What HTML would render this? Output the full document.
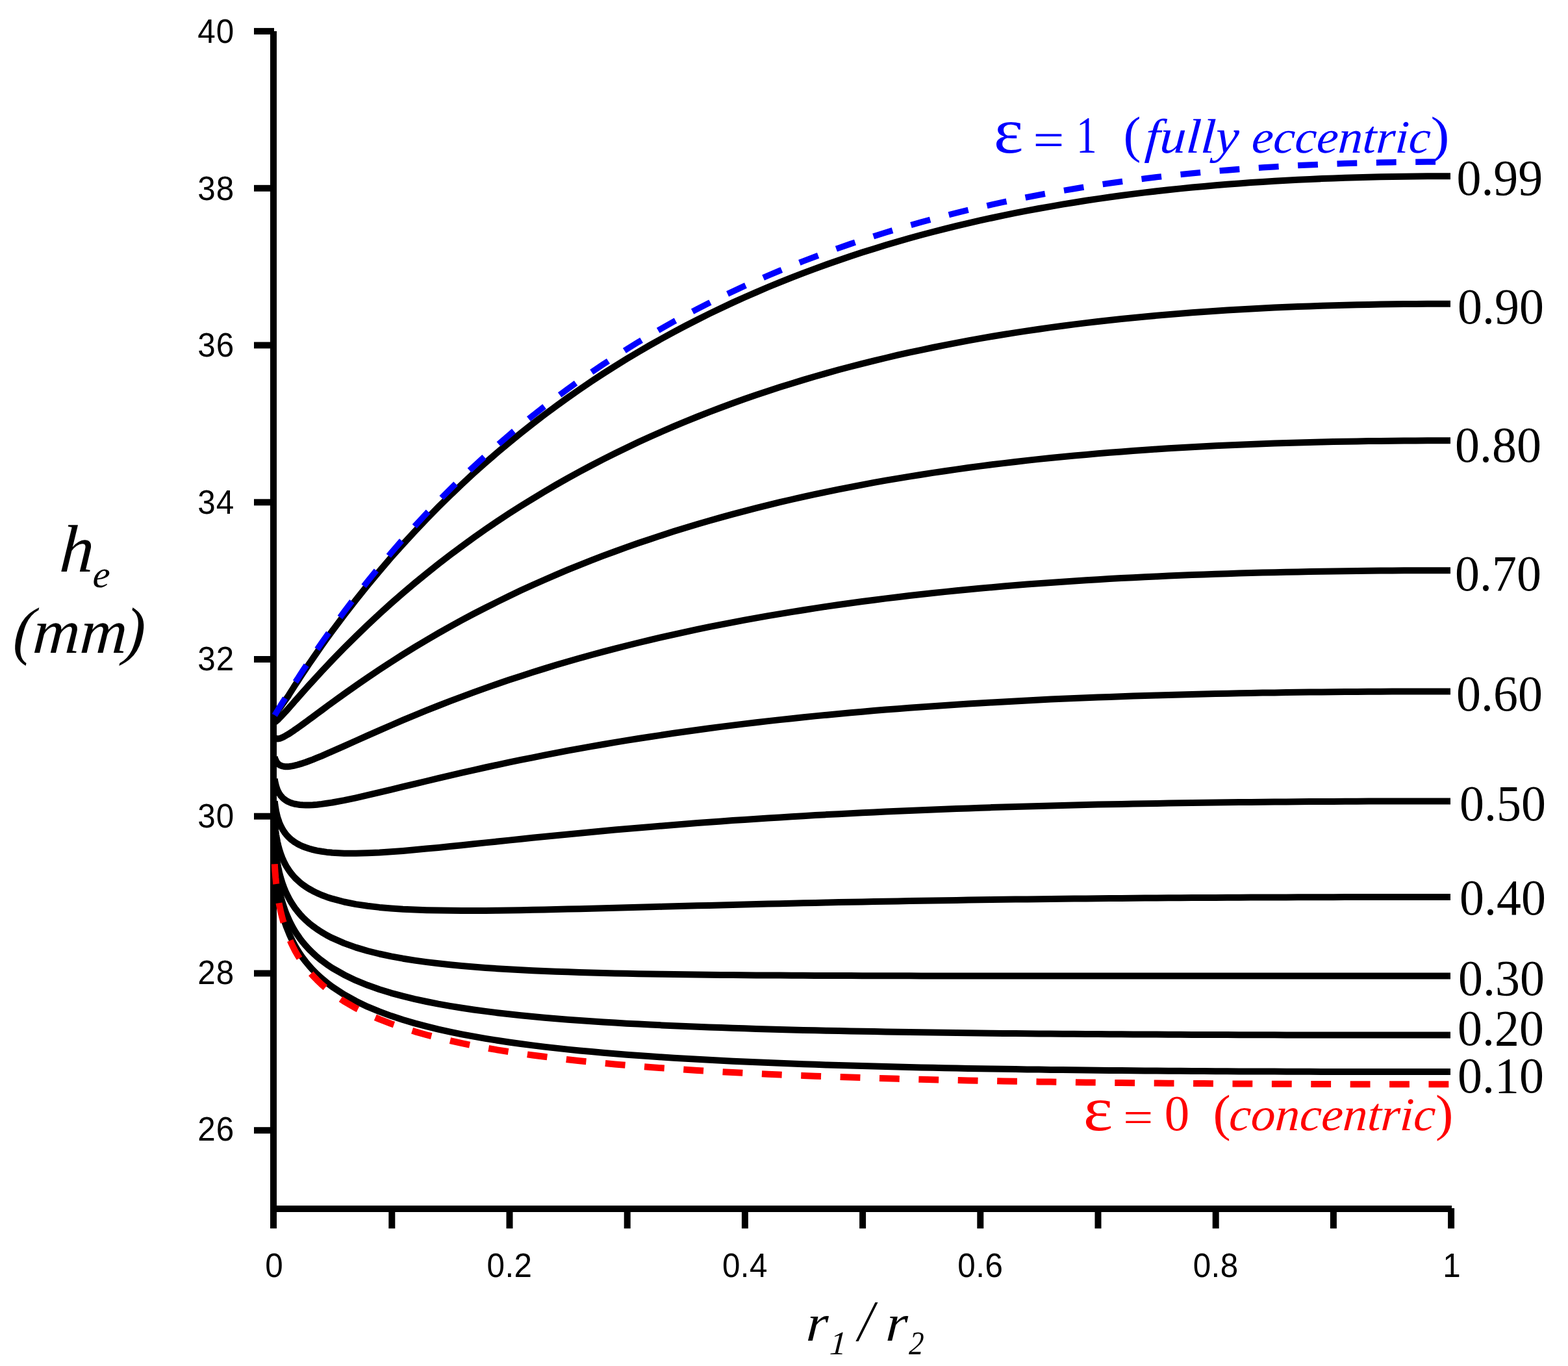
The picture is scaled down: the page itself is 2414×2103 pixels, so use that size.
<!DOCTYPE html>
<html lang="en"><head><meta charset="utf-8"><title>h_e versus r1/r2 for eccentric annuli</title>
<style>
html,body{margin:0;padding:0;background:#fff;}
body{width:2414px;height:2103px;overflow:hidden;}
svg{display:block;}
text{white-space:pre;}
.sans{font-family:"Liberation Sans",sans-serif;}
.serif{font-family:"Liberation Serif",serif;}
.it{font-style:italic;}
.bd{font-weight:bold;}
</style></head><body>
<svg width="2414" height="2103" viewBox="0 0 2414 2103">
<rect width="2414" height="2103" fill="#fff"/>
<g stroke="#000" stroke-width="10" fill="none">
<path d="M421,48.08 V1891.3"/>
<path d="M421,1861.05 H2235"/>
<path d="M391,1740.2 H422"/>
<path d="M391,1498.5 H422"/>
<path d="M391,1256.7 H422"/>
<path d="M391,1015.0 H422"/>
<path d="M391,773.3 H422"/>
<path d="M391,531.5 H422"/>
<path d="M391,289.8 H422"/>
<path d="M391,48.1 H422"/>
<path d="M603.3,1860.05 V1891.3"/>
<path d="M784.5,1860.05 V1891.3"/>
<path d="M965.7,1860.05 V1891.3"/>
<path d="M1146.9,1860.05 V1891.3"/>
<path d="M1328.1,1860.05 V1891.3"/>
<path d="M1509.3,1860.05 V1891.3"/>
<path d="M1690.5,1860.05 V1891.3"/>
<path d="M1871.7,1860.05 V1891.3"/>
<path d="M2052.9,1860.05 V1891.3"/>
<path d="M2234.1,1860.05 V1891.3"/>
</g>
<g fill="none" stroke-linejoin="round">
<path d="M422.8,1325.9 L423.0,1329.0 L423.2,1332.3 L423.4,1335.6 L423.7,1339.0 L424.0,1342.5 L424.3,1346.1 L424.7,1349.8 L425.0,1353.6 L425.5,1357.4 L425.9,1361.4 L426.5,1365.4 L427.0,1369.6 L427.7,1373.8 L428.4,1378.2 L429.2,1382.6 L430.0,1387.2 L431.0,1391.9 L432.0,1396.6 L433.2,1401.5 L434.5,1406.5 L435.9,1411.6 L437.5,1416.8 L439.2,1422.1 L441.1,1427.5 L443.3,1433.0 L445.6,1438.6 L448.2,1444.3 L451.1,1450.2 L454.2,1456.1 L457.8,1462.1 L461.6,1468.2 L465.9,1474.4 L470.7,1480.6 L475.9,1486.9 L481.7,1493.3 L488.1,1499.7 L495.2,1506.2 L503.0,1512.7 L511.6,1519.3 L529.8,1531.2 L547.9,1541.2 L566.0,1549.9 L584.2,1557.4 L602.3,1564.1 L620.4,1570.0 L638.6,1575.4 L656.7,1580.2 L674.8,1584.6 L693.0,1588.6 L711.1,1592.3 L729.2,1595.7 L747.3,1598.9 L765.5,1601.8 L783.6,1604.5 L801.7,1607.0 L819.9,1609.4 L838.0,1611.6 L856.1,1613.6 L874.2,1615.6 L892.4,1617.4 L910.5,1619.1 L928.6,1620.7 L946.8,1622.2 L964.9,1623.7 L983.0,1625.0 L1001.2,1626.3 L1019.3,1627.5 L1037.4,1628.7 L1055.5,1629.8 L1073.7,1630.8 L1091.8,1631.8 L1109.9,1632.8 L1128.1,1633.7 L1146.2,1634.5 L1164.3,1635.3 L1182.5,1636.1 L1200.6,1636.8 L1218.7,1637.5 L1236.8,1638.2 L1255.0,1638.8 L1273.1,1639.5 L1291.2,1640.0 L1309.4,1640.6 L1327.5,1641.1 L1345.6,1641.6 L1363.8,1642.1 L1381.9,1642.5 L1400.0,1643.0 L1418.2,1643.4 L1436.3,1643.8 L1454.4,1644.2 L1472.5,1644.5 L1490.7,1644.9 L1508.8,1645.2 L1526.9,1645.5 L1545.1,1645.8 L1563.2,1646.1 L1581.3,1646.4 L1599.5,1646.6 L1617.6,1646.9 L1635.7,1647.1 L1653.8,1647.3 L1672.0,1647.5 L1690.1,1647.7 L1708.2,1647.9 L1726.4,1648.1 L1744.5,1648.3 L1762.6,1648.4 L1780.8,1648.6 L1798.9,1648.7 L1817.0,1648.8 L1835.1,1649.0 L1853.3,1649.1 L1871.4,1649.2 L1889.5,1649.3 L1907.7,1649.4 L1925.8,1649.5 L1943.9,1649.6 L1962.1,1649.6 L1980.2,1649.7 L1998.3,1649.8 L2016.4,1649.8 L2034.6,1649.9 L2052.7,1649.9 L2070.8,1650.0 L2089.0,1650.0 L2107.1,1650.0 L2125.2,1650.1 L2143.4,1650.1 L2161.5,1650.1 L2179.6,1650.1 L2197.7,1650.1 L2215.9,1650.1 L2233.0,1650.1" stroke="#000" stroke-width="10"/>
<path d="M422.8,1312.9 L423.0,1315.8 L423.2,1318.9 L423.4,1322.0 L423.7,1325.2 L424.0,1328.5 L424.3,1331.9 L424.7,1335.3 L425.0,1338.9 L425.5,1342.5 L425.9,1346.2 L426.5,1349.9 L427.0,1353.8 L427.7,1357.8 L428.4,1361.8 L429.2,1366.0 L430.0,1370.2 L431.0,1374.6 L432.0,1379.0 L433.2,1383.5 L434.5,1388.1 L435.9,1392.9 L437.5,1397.7 L439.2,1402.6 L441.1,1407.5 L443.3,1412.6 L445.6,1417.8 L448.2,1423.0 L451.1,1428.3 L454.2,1433.7 L457.8,1439.2 L461.6,1444.7 L465.9,1450.3 L470.7,1455.9 L475.9,1461.6 L481.7,1467.3 L488.1,1473.1 L495.2,1478.8 L503.0,1484.6 L511.6,1490.3 L529.8,1500.7 L547.9,1509.4 L566.0,1516.8 L584.2,1523.2 L602.3,1528.8 L620.4,1533.7 L638.6,1538.1 L656.7,1542.0 L674.8,1545.6 L693.0,1548.8 L711.1,1551.8 L729.2,1554.5 L747.3,1556.9 L765.5,1559.2 L783.6,1561.3 L801.7,1563.2 L819.9,1565.0 L838.0,1566.7 L856.1,1568.2 L874.2,1569.7 L892.4,1571.0 L910.5,1572.3 L928.6,1573.5 L946.8,1574.6 L964.9,1575.7 L983.0,1576.6 L1001.2,1577.6 L1019.3,1578.4 L1037.4,1579.3 L1055.5,1580.0 L1073.7,1580.8 L1091.8,1581.5 L1109.9,1582.1 L1128.1,1582.7 L1146.2,1583.3 L1164.3,1583.9 L1182.5,1584.4 L1200.6,1584.9 L1218.7,1585.4 L1236.8,1585.9 L1255.0,1586.3 L1273.1,1586.7 L1291.2,1587.1 L1309.4,1587.4 L1327.5,1587.8 L1345.6,1588.1 L1363.8,1588.4 L1381.9,1588.7 L1400.0,1589.0 L1418.2,1589.3 L1436.3,1589.6 L1454.4,1589.8 L1472.5,1590.1 L1490.7,1590.3 L1508.8,1590.5 L1526.9,1590.7 L1545.1,1590.9 L1563.2,1591.1 L1581.3,1591.2 L1599.5,1591.4 L1617.6,1591.6 L1635.7,1591.7 L1653.8,1591.8 L1672.0,1592.0 L1690.1,1592.1 L1708.2,1592.2 L1726.4,1592.3 L1744.5,1592.4 L1762.6,1592.5 L1780.8,1592.6 L1798.9,1592.7 L1817.0,1592.8 L1835.1,1592.9 L1853.3,1593.0 L1871.4,1593.0 L1889.5,1593.1 L1907.7,1593.2 L1925.8,1593.2 L1943.9,1593.3 L1962.1,1593.3 L1980.2,1593.4 L1998.3,1593.4 L2016.4,1593.4 L2034.6,1593.5 L2052.7,1593.5 L2070.8,1593.5 L2089.0,1593.5 L2107.1,1593.6 L2125.2,1593.6 L2143.4,1593.6 L2161.5,1593.6 L2179.6,1593.6 L2197.7,1593.6 L2215.9,1593.6 L2233.0,1593.6" stroke="#000" stroke-width="10"/>
<path d="M422.8,1292.1 L423.0,1294.8 L423.2,1297.5 L423.4,1300.3 L423.7,1303.2 L424.0,1306.1 L424.3,1309.1 L424.7,1312.2 L425.0,1315.4 L425.5,1318.6 L425.9,1321.9 L426.5,1325.2 L427.0,1328.7 L427.7,1332.2 L428.4,1335.8 L429.2,1339.4 L430.0,1343.2 L431.0,1347.0 L432.0,1350.9 L433.2,1354.8 L434.5,1358.9 L435.9,1363.0 L437.5,1367.2 L439.2,1371.4 L441.1,1375.7 L443.3,1380.1 L445.6,1384.5 L448.2,1389.0 L451.1,1393.5 L454.2,1398.1 L457.8,1402.7 L461.6,1407.3 L465.9,1412.0 L470.7,1416.6 L475.9,1421.3 L481.7,1425.9 L488.1,1430.5 L495.2,1435.1 L503.0,1439.7 L511.6,1444.2 L529.8,1452.1 L547.9,1458.6 L566.0,1464.0 L584.2,1468.5 L602.3,1472.4 L620.4,1475.7 L638.6,1478.6 L656.7,1481.1 L674.8,1483.3 L693.0,1485.3 L711.1,1487.0 L729.2,1488.6 L747.3,1489.9 L765.5,1491.2 L783.6,1492.3 L801.7,1493.3 L819.9,1494.2 L838.0,1495.0 L856.1,1495.7 L874.2,1496.3 L892.4,1496.9 L910.5,1497.5 L928.6,1498.0 L946.8,1498.4 L964.9,1498.8 L983.0,1499.2 L1001.2,1499.5 L1019.3,1499.8 L1037.4,1500.1 L1055.5,1500.3 L1073.7,1500.5 L1091.8,1500.7 L1109.9,1500.9 L1128.1,1501.1 L1146.2,1501.3 L1164.3,1501.4 L1182.5,1501.5 L1200.6,1501.6 L1218.7,1501.7 L1236.8,1501.8 L1255.0,1501.9 L1273.1,1502.0 L1291.2,1502.1 L1309.4,1502.1 L1327.5,1502.2 L1345.6,1502.2 L1363.8,1502.3 L1381.9,1502.3 L1400.0,1502.3 L1418.2,1502.4 L1436.3,1502.4 L1454.4,1502.4 L1472.5,1502.5 L1490.7,1502.5 L1508.8,1502.5 L1526.9,1502.5 L1545.1,1502.5 L1563.2,1502.5 L1581.3,1502.5 L1599.5,1502.6 L1617.6,1502.6 L1635.7,1502.6 L1653.8,1502.6 L1672.0,1502.6 L1690.1,1502.6 L1708.2,1502.6 L1726.4,1502.6 L1744.5,1502.6 L1762.6,1502.6 L1780.8,1502.6 L1798.9,1502.6 L1817.0,1502.6 L1835.1,1502.6 L1853.3,1502.6 L1871.4,1502.6 L1889.5,1502.6 L1907.7,1502.6 L1925.8,1502.6 L1943.9,1502.6 L1962.1,1502.6 L1980.2,1502.6 L1998.3,1502.6 L2016.4,1502.6 L2034.6,1502.6 L2052.7,1502.6 L2070.8,1502.6 L2089.0,1502.6 L2107.1,1502.6 L2125.2,1502.6 L2143.4,1502.6 L2161.5,1502.6 L2179.6,1502.6 L2197.7,1502.6 L2215.9,1502.6 L2233.0,1502.6" stroke="#000" stroke-width="10"/>
<path d="M422.8,1265.0 L423.0,1267.3 L423.2,1269.6 L423.4,1271.9 L423.7,1274.4 L424.0,1276.9 L424.3,1279.4 L424.7,1282.0 L425.0,1284.6 L425.5,1287.3 L425.9,1290.1 L426.5,1292.9 L427.0,1295.8 L427.7,1298.7 L428.4,1301.7 L429.2,1304.7 L430.0,1307.8 L431.0,1310.9 L432.0,1314.1 L433.2,1317.3 L434.5,1320.6 L435.9,1323.9 L437.5,1327.3 L439.2,1330.7 L441.1,1334.1 L443.3,1337.5 L445.6,1341.0 L448.2,1344.5 L451.1,1348.0 L454.2,1351.5 L457.8,1354.9 L461.6,1358.4 L465.9,1361.8 L470.7,1365.2 L475.9,1368.5 L481.7,1371.7 L488.1,1374.9 L495.2,1378.0 L503.0,1380.9 L511.6,1383.7 L529.8,1388.5 L547.9,1392.1 L566.0,1394.8 L584.2,1396.9 L602.3,1398.5 L620.4,1399.7 L638.6,1400.5 L656.7,1401.2 L674.8,1401.6 L693.0,1401.8 L711.1,1402.0 L729.2,1402.0 L747.3,1401.9 L765.5,1401.7 L783.6,1401.5 L801.7,1401.2 L819.9,1400.8 L838.0,1400.5 L856.1,1400.1 L874.2,1399.6 L892.4,1399.2 L910.5,1398.7 L928.6,1398.3 L946.8,1397.8 L964.9,1397.3 L983.0,1396.8 L1001.2,1396.3 L1019.3,1395.8 L1037.4,1395.3 L1055.5,1394.8 L1073.7,1394.3 L1091.8,1393.9 L1109.9,1393.4 L1128.1,1392.9 L1146.2,1392.5 L1164.3,1392.0 L1182.5,1391.6 L1200.6,1391.2 L1218.7,1390.7 L1236.8,1390.3 L1255.0,1389.9 L1273.1,1389.5 L1291.2,1389.1 L1309.4,1388.8 L1327.5,1388.4 L1345.6,1388.1 L1363.8,1387.7 L1381.9,1387.4 L1400.0,1387.1 L1418.2,1386.8 L1436.3,1386.5 L1454.4,1386.2 L1472.5,1385.9 L1490.7,1385.6 L1508.8,1385.3 L1526.9,1385.1 L1545.1,1384.8 L1563.2,1384.6 L1581.3,1384.4 L1599.5,1384.2 L1617.6,1384.0 L1635.7,1383.8 L1653.8,1383.6 L1672.0,1383.4 L1690.1,1383.2 L1708.2,1383.0 L1726.4,1382.9 L1744.5,1382.7 L1762.6,1382.6 L1780.8,1382.5 L1798.9,1382.3 L1817.0,1382.2 L1835.1,1382.1 L1853.3,1382.0 L1871.4,1381.9 L1889.5,1381.8 L1907.7,1381.7 L1925.8,1381.6 L1943.9,1381.5 L1962.1,1381.5 L1980.2,1381.4 L1998.3,1381.3 L2016.4,1381.3 L2034.6,1381.2 L2052.7,1381.2 L2070.8,1381.1 L2089.0,1381.1 L2107.1,1381.1 L2125.2,1381.0 L2143.4,1381.0 L2161.5,1381.0 L2179.6,1381.0 L2197.7,1381.0 L2215.9,1381.0 L2233.0,1381.0" stroke="#000" stroke-width="10"/>
<path d="M422.8,1233.2 L423.0,1235.0 L423.2,1236.9 L423.4,1238.7 L423.7,1240.7 L424.0,1242.6 L424.3,1244.6 L424.7,1246.6 L425.0,1248.7 L425.5,1250.8 L425.9,1252.9 L426.5,1255.1 L427.0,1257.3 L427.7,1259.5 L428.4,1261.7 L429.2,1264.0 L430.0,1266.4 L431.0,1268.7 L432.0,1271.1 L433.2,1273.4 L434.5,1275.8 L435.9,1278.2 L437.5,1280.6 L439.2,1283.0 L441.1,1285.4 L443.3,1287.7 L445.6,1290.1 L448.2,1292.4 L451.1,1294.6 L454.2,1296.8 L457.8,1299.0 L461.6,1301.0 L465.9,1303.0 L470.7,1304.8 L475.9,1306.5 L481.7,1308.1 L488.1,1309.6 L495.2,1310.8 L503.0,1311.9 L511.6,1312.7 L529.8,1313.7 L547.9,1313.8 L566.0,1313.3 L584.2,1312.5 L602.3,1311.3 L620.4,1309.9 L638.6,1308.3 L656.7,1306.6 L674.8,1304.9 L693.0,1303.0 L711.1,1301.2 L729.2,1299.3 L747.3,1297.4 L765.5,1295.5 L783.6,1293.6 L801.7,1291.7 L819.9,1289.8 L838.0,1288.0 L856.1,1286.2 L874.2,1284.4 L892.4,1282.7 L910.5,1280.9 L928.6,1279.2 L946.8,1277.6 L964.9,1276.0 L983.0,1274.4 L1001.2,1272.9 L1019.3,1271.4 L1037.4,1269.9 L1055.5,1268.5 L1073.7,1267.1 L1091.8,1265.7 L1109.9,1264.4 L1128.1,1263.1 L1146.2,1261.9 L1164.3,1260.7 L1182.5,1259.5 L1200.6,1258.4 L1218.7,1257.3 L1236.8,1256.2 L1255.0,1255.1 L1273.1,1254.1 L1291.2,1253.2 L1309.4,1252.2 L1327.5,1251.3 L1345.6,1250.4 L1363.8,1249.6 L1381.9,1248.7 L1400.0,1248.0 L1418.2,1247.2 L1436.3,1246.4 L1454.4,1245.7 L1472.5,1245.0 L1490.7,1244.4 L1508.8,1243.7 L1526.9,1243.1 L1545.1,1242.5 L1563.2,1242.0 L1581.3,1241.4 L1599.5,1240.9 L1617.6,1240.4 L1635.7,1240.0 L1653.8,1239.5 L1672.0,1239.1 L1690.1,1238.6 L1708.2,1238.3 L1726.4,1237.9 L1744.5,1237.5 L1762.6,1237.2 L1780.8,1236.9 L1798.9,1236.6 L1817.0,1236.3 L1835.1,1236.0 L1853.3,1235.7 L1871.4,1235.5 L1889.5,1235.3 L1907.7,1235.1 L1925.8,1234.9 L1943.9,1234.7 L1962.1,1234.5 L1980.2,1234.4 L1998.3,1234.2 L2016.4,1234.1 L2034.6,1234.0 L2052.7,1233.9 L2070.8,1233.8 L2089.0,1233.7 L2107.1,1233.6 L2125.2,1233.6 L2143.4,1233.5 L2161.5,1233.5 L2179.6,1233.4 L2197.7,1233.4 L2215.9,1233.4 L2233.0,1233.4" stroke="#000" stroke-width="10"/>
<path d="M422.8,1199.1 L423.0,1200.4 L423.2,1201.7 L423.4,1203.1 L423.7,1204.4 L424.0,1205.8 L424.3,1207.2 L424.7,1208.6 L425.0,1210.0 L425.5,1211.4 L425.9,1212.9 L426.5,1214.4 L427.0,1215.8 L427.7,1217.3 L428.4,1218.8 L429.2,1220.3 L430.0,1221.8 L431.0,1223.2 L432.0,1224.7 L433.2,1226.1 L434.5,1227.6 L435.9,1228.9 L437.5,1230.3 L439.2,1231.6 L441.1,1232.8 L443.3,1234.0 L445.6,1235.1 L448.2,1236.1 L451.1,1237.0 L454.2,1237.8 L457.8,1238.4 L461.6,1239.0 L465.9,1239.3 L470.7,1239.5 L475.9,1239.4 L481.7,1239.2 L488.1,1238.7 L495.2,1237.9 L503.0,1236.8 L511.6,1235.5 L529.8,1232.1 L547.9,1228.3 L566.0,1224.2 L584.2,1219.9 L602.3,1215.6 L620.4,1211.2 L638.6,1206.8 L656.7,1202.5 L674.8,1198.1 L693.0,1193.9 L711.1,1189.7 L729.2,1185.6 L747.3,1181.5 L765.5,1177.6 L783.6,1173.7 L801.7,1169.9 L819.9,1166.3 L838.0,1162.7 L856.1,1159.1 L874.2,1155.7 L892.4,1152.4 L910.5,1149.2 L928.6,1146.0 L946.8,1142.9 L964.9,1139.9 L983.0,1137.0 L1001.2,1134.2 L1019.3,1131.5 L1037.4,1128.8 L1055.5,1126.2 L1073.7,1123.7 L1091.8,1121.3 L1109.9,1118.9 L1128.1,1116.6 L1146.2,1114.4 L1164.3,1112.2 L1182.5,1110.1 L1200.6,1108.1 L1218.7,1106.2 L1236.8,1104.3 L1255.0,1102.4 L1273.1,1100.7 L1291.2,1098.9 L1309.4,1097.3 L1327.5,1095.7 L1345.6,1094.1 L1363.8,1092.6 L1381.9,1091.2 L1400.0,1089.8 L1418.2,1088.5 L1436.3,1087.2 L1454.4,1085.9 L1472.5,1084.7 L1490.7,1083.6 L1508.8,1082.4 L1526.9,1081.4 L1545.1,1080.4 L1563.2,1079.4 L1581.3,1078.4 L1599.5,1077.5 L1617.6,1076.6 L1635.7,1075.8 L1653.8,1075.0 L1672.0,1074.3 L1690.1,1073.5 L1708.2,1072.9 L1726.4,1072.2 L1744.5,1071.6 L1762.6,1071.0 L1780.8,1070.4 L1798.9,1069.9 L1817.0,1069.4 L1835.1,1068.9 L1853.3,1068.5 L1871.4,1068.1 L1889.5,1067.7 L1907.7,1067.3 L1925.8,1067.0 L1943.9,1066.6 L1962.1,1066.4 L1980.2,1066.1 L1998.3,1065.8 L2016.4,1065.6 L2034.6,1065.4 L2052.7,1065.2 L2070.8,1065.1 L2089.0,1064.9 L2107.1,1064.8 L2125.2,1064.7 L2143.4,1064.6 L2161.5,1064.5 L2179.6,1064.5 L2197.7,1064.4 L2215.9,1064.4 L2233.0,1064.4" stroke="#000" stroke-width="10"/>
<path d="M422.8,1165.4 L423.0,1166.1 L423.2,1166.9 L423.4,1167.7 L423.7,1168.5 L424.0,1169.3 L424.3,1170.1 L424.7,1170.8 L425.0,1171.6 L425.5,1172.4 L425.9,1173.2 L426.5,1173.9 L427.0,1174.7 L427.7,1175.4 L428.4,1176.1 L429.2,1176.7 L430.0,1177.4 L431.0,1178.0 L432.0,1178.5 L433.2,1179.0 L434.5,1179.4 L435.9,1179.7 L437.5,1180.0 L439.2,1180.2 L441.1,1180.2 L443.3,1180.2 L445.6,1180.0 L448.2,1179.6 L451.1,1179.1 L454.2,1178.4 L457.8,1177.5 L461.6,1176.4 L465.9,1175.1 L470.7,1173.5 L475.9,1171.5 L481.7,1169.3 L488.1,1166.7 L495.2,1163.8 L503.0,1160.4 L511.6,1156.7 L529.8,1148.6 L547.9,1140.5 L566.0,1132.4 L584.2,1124.4 L602.3,1116.5 L620.4,1108.7 L638.6,1101.1 L656.7,1093.7 L674.8,1086.5 L693.0,1079.4 L711.1,1072.6 L729.2,1065.9 L747.3,1059.4 L765.5,1053.0 L783.6,1046.8 L801.7,1040.9 L819.9,1035.0 L838.0,1029.4 L856.1,1023.8 L874.2,1018.5 L892.4,1013.3 L910.5,1008.2 L928.6,1003.3 L946.8,998.6 L964.9,994.0 L983.0,989.5 L1001.2,985.1 L1019.3,980.9 L1037.4,976.8 L1055.5,972.8 L1073.7,968.9 L1091.8,965.2 L1109.9,961.6 L1128.1,958.1 L1146.2,954.7 L1164.3,951.4 L1182.5,948.2 L1200.6,945.1 L1218.7,942.1 L1236.8,939.2 L1255.0,936.4 L1273.1,933.6 L1291.2,931.0 L1309.4,928.5 L1327.5,926.0 L1345.6,923.7 L1363.8,921.4 L1381.9,919.2 L1400.0,917.0 L1418.2,915.0 L1436.3,913.0 L1454.4,911.1 L1472.5,909.3 L1490.7,907.5 L1508.8,905.8 L1526.9,904.2 L1545.1,902.6 L1563.2,901.1 L1581.3,899.6 L1599.5,898.3 L1617.6,896.9 L1635.7,895.7 L1653.8,894.5 L1672.0,893.3 L1690.1,892.2 L1708.2,891.1 L1726.4,890.1 L1744.5,889.2 L1762.6,888.3 L1780.8,887.4 L1798.9,886.6 L1817.0,885.8 L1835.1,885.1 L1853.3,884.4 L1871.4,883.8 L1889.5,883.2 L1907.7,882.6 L1925.8,882.1 L1943.9,881.6 L1962.1,881.2 L1980.2,880.7 L1998.3,880.4 L2016.4,880.0 L2034.6,879.7 L2052.7,879.4 L2070.8,879.2 L2089.0,878.9 L2107.1,878.7 L2125.2,878.6 L2143.4,878.4 L2161.5,878.3 L2179.6,878.2 L2197.7,878.2 L2215.9,878.2 L2233.0,878.2" stroke="#000" stroke-width="10"/>
<path d="M422.8,1135.0 L423.0,1135.3 L423.2,1135.6 L423.4,1135.9 L423.7,1136.1 L424.0,1136.4 L424.3,1136.6 L424.7,1136.8 L425.0,1137.0 L425.5,1137.1 L425.9,1137.3 L426.5,1137.3 L427.0,1137.4 L427.7,1137.4 L428.4,1137.3 L429.2,1137.2 L430.0,1137.0 L431.0,1136.8 L432.0,1136.4 L433.2,1136.0 L434.5,1135.4 L435.9,1134.8 L437.5,1134.0 L439.2,1133.0 L441.1,1131.9 L443.3,1130.7 L445.6,1129.2 L448.2,1127.5 L451.1,1125.6 L454.2,1123.4 L457.8,1121.0 L461.6,1118.2 L465.9,1115.1 L470.7,1111.7 L475.9,1107.8 L481.7,1103.6 L488.1,1098.8 L495.2,1093.6 L503.0,1087.8 L511.6,1081.5 L529.8,1068.4 L547.9,1055.6 L566.0,1043.1 L584.2,1030.9 L602.3,1019.1 L620.4,1007.5 L638.6,996.3 L656.7,985.5 L674.8,974.9 L693.0,964.7 L711.1,954.7 L729.2,945.0 L747.3,935.7 L765.5,926.6 L783.6,917.7 L801.7,909.1 L819.9,900.8 L838.0,892.7 L856.1,884.9 L874.2,877.2 L892.4,869.9 L910.5,862.7 L928.6,855.7 L946.8,849.0 L964.9,842.4 L983.0,836.0 L1001.2,829.9 L1019.3,823.9 L1037.4,818.1 L1055.5,812.5 L1073.7,807.0 L1091.8,801.7 L1109.9,796.6 L1128.1,791.6 L1146.2,786.8 L1164.3,782.1 L1182.5,777.6 L1200.6,773.2 L1218.7,769.0 L1236.8,764.9 L1255.0,760.9 L1273.1,757.1 L1291.2,753.4 L1309.4,749.8 L1327.5,746.3 L1345.6,742.9 L1363.8,739.7 L1381.9,736.6 L1400.0,733.6 L1418.2,730.7 L1436.3,727.9 L1454.4,725.2 L1472.5,722.6 L1490.7,720.0 L1508.8,717.6 L1526.9,715.3 L1545.1,713.1 L1563.2,711.0 L1581.3,708.9 L1599.5,706.9 L1617.6,705.0 L1635.7,703.2 L1653.8,701.5 L1672.0,699.9 L1690.1,698.3 L1708.2,696.8 L1726.4,695.4 L1744.5,694.0 L1762.6,692.7 L1780.8,691.5 L1798.9,690.3 L1817.0,689.2 L1835.1,688.2 L1853.3,687.2 L1871.4,686.3 L1889.5,685.5 L1907.7,684.7 L1925.8,683.9 L1943.9,683.2 L1962.1,682.6 L1980.2,682.0 L1998.3,681.4 L2016.4,680.9 L2034.6,680.5 L2052.7,680.1 L2070.8,679.7 L2089.0,679.4 L2107.1,679.1 L2125.2,678.9 L2143.4,678.7 L2161.5,678.5 L2179.6,678.4 L2197.7,678.3 L2215.9,678.3 L2233.0,678.3" stroke="#000" stroke-width="10"/>
<path d="M422.8,1111.9 L423.0,1111.8 L423.2,1111.7 L423.4,1111.5 L423.7,1111.4 L424.0,1111.2 L424.3,1111.0 L424.7,1110.7 L425.0,1110.4 L425.5,1110.0 L425.9,1109.6 L426.5,1109.2 L427.0,1108.7 L427.7,1108.1 L428.4,1107.4 L429.2,1106.6 L430.0,1105.8 L431.0,1104.8 L432.0,1103.7 L433.2,1102.5 L434.5,1101.1 L435.9,1099.6 L437.5,1097.9 L439.2,1096.0 L441.1,1094.0 L443.3,1091.6 L445.6,1088.9 L448.2,1086.0 L451.1,1082.7 L454.2,1079.1 L457.8,1075.1 L461.6,1070.7 L465.9,1065.9 L470.7,1060.5 L475.9,1054.7 L481.7,1048.3 L488.1,1041.3 L495.2,1033.7 L503.0,1025.3 L511.6,1016.2 L529.8,997.6 L547.9,979.6 L566.0,962.1 L584.2,945.2 L602.3,928.8 L620.4,913.0 L638.6,897.7 L656.7,882.8 L674.8,868.4 L693.0,854.4 L711.1,840.9 L729.2,827.8 L747.3,815.0 L765.5,802.7 L783.6,790.7 L801.7,779.1 L819.9,767.9 L838.0,757.0 L856.1,746.4 L874.2,736.1 L892.4,726.1 L910.5,716.5 L928.6,707.1 L946.8,698.0 L964.9,689.2 L983.0,680.6 L1001.2,672.3 L1019.3,664.2 L1037.4,656.4 L1055.5,648.9 L1073.7,641.5 L1091.8,634.4 L1109.9,627.5 L1128.1,620.8 L1146.2,614.3 L1164.3,608.1 L1182.5,602.0 L1200.6,596.1 L1218.7,590.4 L1236.8,584.9 L1255.0,579.5 L1273.1,574.4 L1291.2,569.3 L1309.4,564.5 L1327.5,559.8 L1345.6,555.3 L1363.8,551.0 L1381.9,546.7 L1400.0,542.7 L1418.2,538.8 L1436.3,535.0 L1454.4,531.3 L1472.5,527.8 L1490.7,524.4 L1508.8,521.2 L1526.9,518.0 L1545.1,515.0 L1563.2,512.1 L1581.3,509.4 L1599.5,506.7 L1617.6,504.1 L1635.7,501.7 L1653.8,499.4 L1672.0,497.1 L1690.1,495.0 L1708.2,493.0 L1726.4,491.0 L1744.5,489.2 L1762.6,487.4 L1780.8,485.8 L1798.9,484.2 L1817.0,482.7 L1835.1,481.3 L1853.3,480.0 L1871.4,478.7 L1889.5,477.5 L1907.7,476.5 L1925.8,475.4 L1943.9,474.5 L1962.1,473.6 L1980.2,472.8 L1998.3,472.1 L2016.4,471.4 L2034.6,470.8 L2052.7,470.2 L2070.8,469.7 L2089.0,469.3 L2107.1,468.9 L2125.2,468.6 L2143.4,468.3 L2161.5,468.1 L2179.6,467.9 L2197.7,467.8 L2215.9,467.8 L2233.0,467.8" stroke="#000" stroke-width="10"/>
<path d="M422.8,1101.5 L423.0,1101.3 L423.2,1100.9 L423.4,1100.6 L423.7,1100.2 L424.0,1099.8 L424.3,1099.4 L424.7,1098.9 L425.0,1098.3 L425.5,1097.7 L425.9,1097.0 L426.5,1096.2 L427.0,1095.4 L427.7,1094.5 L428.4,1093.5 L429.2,1092.3 L430.0,1091.1 L431.0,1089.7 L432.0,1088.2 L433.2,1086.6 L434.5,1084.7 L435.9,1082.7 L437.5,1080.5 L439.2,1078.0 L441.1,1075.3 L443.3,1072.3 L445.6,1068.5 L448.2,1064.4 L451.1,1059.9 L454.2,1054.9 L457.8,1049.5 L461.6,1043.5 L465.9,1037.0 L470.7,1029.9 L475.9,1022.1 L481.7,1013.6 L488.1,1004.3 L495.2,994.2 L503.0,983.2 L511.6,971.3 L529.8,947.0 L547.9,923.6 L566.0,901.0 L584.2,879.2 L602.3,858.1 L620.4,837.8 L638.6,818.1 L656.7,799.1 L674.8,780.6 L693.0,762.8 L711.1,745.5 L729.2,728.7 L747.3,712.5 L765.5,696.8 L783.6,681.6 L801.7,666.8 L819.9,652.5 L838.0,638.6 L856.1,625.2 L874.2,612.1 L892.4,599.5 L910.5,587.2 L928.6,575.3 L946.8,563.8 L964.9,552.6 L983.0,541.7 L1001.2,531.2 L1019.3,521.0 L1037.4,511.1 L1055.5,501.5 L1073.7,492.2 L1091.8,483.1 L1109.9,474.4 L1128.1,465.9 L1146.2,457.7 L1164.3,449.8 L1182.5,442.0 L1200.6,434.6 L1218.7,427.3 L1236.8,420.3 L1255.0,413.6 L1273.1,407.0 L1291.2,400.7 L1309.4,394.5 L1327.5,388.6 L1345.6,382.9 L1363.8,377.3 L1381.9,372.0 L1400.0,366.8 L1418.2,361.8 L1436.3,357.0 L1454.4,352.4 L1472.5,347.9 L1490.7,343.6 L1508.8,339.4 L1526.9,335.5 L1545.1,331.6 L1563.2,327.9 L1581.3,324.4 L1599.5,321.0 L1617.6,317.8 L1635.7,314.6 L1653.8,311.7 L1672.0,308.8 L1690.1,306.1 L1708.2,303.5 L1726.4,301.0 L1744.5,298.6 L1762.6,296.4 L1780.8,294.3 L1798.9,292.3 L1817.0,290.4 L1835.1,288.6 L1853.3,286.9 L1871.4,285.3 L1889.5,283.8 L1907.7,282.4 L1925.8,281.1 L1943.9,279.9 L1962.1,278.7 L1980.2,277.7 L1998.3,276.8 L2016.4,275.9 L2034.6,275.1 L2052.7,274.4 L2070.8,273.8 L2089.0,273.2 L2107.1,272.7 L2125.2,272.3 L2143.4,272.0 L2161.5,271.7 L2179.6,271.5 L2197.7,271.3 L2215.9,271.2 L2233.0,271.2" stroke="#000" stroke-width="10"/>
<path d="M422.8,1330.3 L423.0,1333.5 L423.2,1336.8 L423.4,1340.3 L423.7,1343.7 L424.0,1347.3 L424.3,1351.0 L424.7,1354.7 L425.0,1358.6 L425.5,1362.5 L425.9,1366.6 L426.5,1370.7 L427.0,1375.0 L427.7,1379.3 L428.4,1383.8 L429.2,1388.3 L430.0,1393.0 L431.0,1397.7 L432.0,1402.6 L433.2,1407.6 L434.5,1412.7 L435.9,1418.0 L437.5,1423.3 L439.2,1428.7 L441.1,1434.3 L443.3,1440.0 L445.6,1445.7 L448.2,1451.6 L451.1,1457.6 L454.2,1463.7 L457.8,1469.9 L461.6,1476.2 L465.9,1482.6 L470.7,1489.0 L475.9,1495.6 L481.7,1502.2 L488.1,1508.8 L495.2,1515.6 L503.0,1522.3 L511.6,1529.2 L529.8,1541.6 L547.9,1552.1 L566.0,1561.2 L584.2,1569.1 L602.3,1576.1 L620.4,1582.4 L638.6,1588.1 L656.7,1593.2 L674.8,1597.9 L693.0,1602.2 L711.1,1606.1 L729.2,1609.8 L747.3,1613.1 L765.5,1616.3 L783.6,1619.2 L801.7,1621.9 L819.9,1624.5 L838.0,1626.8 L856.1,1629.1 L874.2,1631.2 L892.4,1633.2 L910.5,1635.0 L928.6,1636.8 L946.8,1638.4 L964.9,1640.0 L983.0,1641.5 L1001.2,1642.9 L1019.3,1644.3 L1037.4,1645.5 L1055.5,1646.7 L1073.7,1647.9 L1091.8,1649.0 L1109.9,1650.0 L1128.1,1651.0 L1146.2,1651.9 L1164.3,1652.8 L1182.5,1653.7 L1200.6,1654.5 L1218.7,1655.3 L1236.8,1656.0 L1255.0,1656.7 L1273.1,1657.4 L1291.2,1658.0 L1309.4,1658.6 L1327.5,1659.2 L1345.6,1659.8 L1363.8,1660.3 L1381.9,1660.8 L1400.0,1661.3 L1418.2,1661.8 L1436.3,1662.2 L1454.4,1662.6 L1472.5,1663.0 L1490.7,1663.4 L1508.8,1663.8 L1526.9,1664.1 L1545.1,1664.5 L1563.2,1664.8 L1581.3,1665.1 L1599.5,1665.4 L1617.6,1665.6 L1635.7,1665.9 L1653.8,1666.1 L1672.0,1666.4 L1690.1,1666.6 L1708.2,1666.8 L1726.4,1667.0 L1744.5,1667.2 L1762.6,1667.4 L1780.8,1667.5 L1798.9,1667.7 L1817.0,1667.8 L1835.1,1668.0 L1853.3,1668.1 L1871.4,1668.2 L1889.5,1668.4 L1907.7,1668.5 L1925.8,1668.6 L1943.9,1668.7 L1962.1,1668.7 L1980.2,1668.8 L1998.3,1668.9 L2016.4,1669.0 L2034.6,1669.0 L2052.7,1669.1 L2070.8,1669.1 L2089.0,1669.2 L2107.1,1669.2 L2125.2,1669.2 L2143.4,1669.2 L2161.5,1669.3 L2179.6,1669.3 L2197.7,1669.3 L2215.9,1669.3 L2233.0,1669.3" stroke="#ff0000" stroke-width="10" stroke-dasharray="30.8 29.6" stroke-dashoffset="-0"/>
<path d="M422.8,1101.3 L423.0,1101.0 L423.2,1100.6 L423.4,1100.3 L423.7,1099.8 L424.0,1099.4 L424.3,1098.8 L424.7,1098.3 L425.0,1097.6 L425.5,1096.9 L425.9,1096.1 L426.5,1095.3 L427.0,1094.3 L427.7,1093.3 L428.4,1092.1 L429.2,1090.8 L430.0,1089.4 L431.0,1087.9 L432.0,1086.2 L433.2,1084.3 L434.5,1082.2 L435.9,1079.9 L437.5,1077.4 L439.2,1074.6 L441.1,1071.5 L443.3,1068.1 L445.6,1064.4 L448.2,1060.3 L451.1,1055.8 L454.2,1050.8 L457.8,1045.4 L461.6,1039.4 L465.9,1032.9 L470.7,1025.7 L475.9,1017.9 L481.7,1009.3 L488.1,999.9 L495.2,989.7 L503.0,978.6 L511.6,966.5 L529.8,941.8 L547.9,917.9 L566.0,894.8 L584.2,872.5 L602.3,850.9 L620.4,830.1 L638.6,809.9 L656.7,790.4 L674.8,771.5 L693.0,753.2 L711.1,735.4 L729.2,718.3 L747.3,701.6 L765.5,685.5 L783.6,669.9 L801.7,654.7 L819.9,640.1 L838.0,625.8 L856.1,612.0 L874.2,598.7 L892.4,585.7 L910.5,573.1 L928.6,560.9 L946.8,549.1 L964.9,537.6 L983.0,526.4 L1001.2,515.7 L1019.3,505.2 L1037.4,495.0 L1055.5,485.2 L1073.7,475.7 L1091.8,466.4 L1109.9,457.4 L1128.1,448.8 L1146.2,440.3 L1164.3,432.2 L1182.5,424.3 L1200.6,416.6 L1218.7,409.2 L1236.8,402.0 L1255.0,395.1 L1273.1,388.3 L1291.2,381.8 L1309.4,375.5 L1327.5,369.5 L1345.6,363.6 L1363.8,357.9 L1381.9,352.4 L1400.0,347.1 L1418.2,342.0 L1436.3,337.1 L1454.4,332.3 L1472.5,327.7 L1490.7,323.3 L1508.8,319.1 L1526.9,315.0 L1545.1,311.0 L1563.2,307.3 L1581.3,303.6 L1599.5,300.1 L1617.6,296.8 L1635.7,293.6 L1653.8,290.6 L1672.0,287.6 L1690.1,284.8 L1708.2,282.2 L1726.4,279.6 L1744.5,277.2 L1762.6,274.9 L1780.8,272.7 L1798.9,270.7 L1817.0,268.7 L1835.1,266.9 L1853.3,265.1 L1871.4,263.5 L1889.5,262.0 L1907.7,260.5 L1925.8,259.2 L1943.9,257.9 L1962.1,256.8 L1980.2,255.7 L1998.3,254.7 L2016.4,253.9 L2034.6,253.1 L2052.7,252.3 L2070.8,251.7 L2089.0,251.1 L2107.1,250.6 L2125.2,250.2 L2143.4,249.8 L2161.5,249.5 L2179.6,249.3 L2197.7,249.2 L2215.9,249.1 L2233.0,249.1" stroke="#0000ff" stroke-width="9.3" stroke-dasharray="30.8 29.6" stroke-dashoffset="-0.24"/>
</g>
<text class="sans" transform="translate(361.39,1756.44) scale(0.955,1)" font-size="51.7" text-anchor="end" letter-spacing="1.2">26</text>
<text class="sans" transform="translate(361.39,1515) scale(0.955,1)" font-size="51.7" text-anchor="end" letter-spacing="1.2">28</text>
<text class="sans" transform="translate(361.39,1273.55) scale(0.955,1)" font-size="51.7" text-anchor="end" letter-spacing="1.2">30</text>
<text class="sans" transform="translate(361.39,1032.11) scale(0.955,1)" font-size="51.7" text-anchor="end" letter-spacing="1.2">32</text>
<text class="sans" transform="translate(361.39,790.66) scale(0.955,1)" font-size="51.7" text-anchor="end" letter-spacing="1.2">34</text>
<text class="sans" transform="translate(361.39,549.22) scale(0.955,1)" font-size="51.7" text-anchor="end" letter-spacing="1.2">36</text>
<text class="sans" transform="translate(361.39,307.77) scale(0.955,1)" font-size="51.7" text-anchor="end" letter-spacing="1.2">38</text>
<text class="sans" transform="translate(361.39,66.33) scale(0.955,1)" font-size="51.7" text-anchor="end" letter-spacing="1.2">40</text>
<text class="sans" transform="translate(422.1,1966.09) scale(0.955,1)" font-size="51.7" text-anchor="middle">0</text>
<text class="sans" transform="translate(784.5,1966.09) scale(0.955,1)" font-size="51.7" text-anchor="middle" letter-spacing="0.5">0.2</text>
<text class="sans" transform="translate(1146.9,1966.09) scale(0.955,1)" font-size="51.7" text-anchor="middle" letter-spacing="0.5">0.4</text>
<text class="sans" transform="translate(1509.3,1966.09) scale(0.955,1)" font-size="51.7" text-anchor="middle" letter-spacing="0.5">0.6</text>
<text class="sans" transform="translate(1871.7,1966.09) scale(0.955,1)" font-size="51.7" text-anchor="middle" letter-spacing="0.5">0.8</text>
<text class="sans" transform="translate(2235.1,1966.09) scale(0.955,1)" font-size="51.7" text-anchor="middle">1</text>
<text class="serif" transform="translate(2242.4,300) scale(0.976,1)" font-size="77.84">0.99</text>
<text class="serif" transform="translate(2244.1,497.7) scale(0.976,1)" font-size="77.84">0.90</text>
<text class="serif" transform="translate(2240.1,710.5) scale(0.976,1)" font-size="77.84">0.80</text>
<text class="serif" transform="translate(2240.1,909.2) scale(0.976,1)" font-size="77.84">0.70</text>
<text class="serif" transform="translate(2242.1,1093.5) scale(0.976,1)" font-size="77.84">0.60</text>
<text class="serif" transform="translate(2247.1,1263) scale(0.976,1)" font-size="77.84">0.50</text>
<text class="serif" transform="translate(2247.1,1408.1) scale(0.976,1)" font-size="77.84">0.40</text>
<text class="serif" transform="translate(2245.1,1532.2) scale(0.976,1)" font-size="77.84">0.30</text>
<text class="serif" transform="translate(2244.1,1609) scale(0.976,1)" font-size="77.84">0.20</text>
<text class="serif" transform="translate(2244.1,1682.4) scale(0.976,1)" font-size="77.84">0.10</text>
<text class="serif" transform="translate(1529.78,234.61) scale(1.094,1)" font-size="99.37" fill="#0000ff">ε</text>
<text class="serif" transform="translate(1590.47,240.07) scale(1.147,1)" font-size="74" fill="#0000ff">=</text>
<text class="serif" transform="translate(1656.99,235.2) scale(0.8,1)" font-size="79.4" fill="#0000ff">1</text>
<text class="serif" transform="translate(1729.44,234.41) scale(1.048,1)" font-size="77.32" fill="#0000ff">(</text>
<text class="serif it" transform="translate(1762.07,234.58) scale(1.085,1) skewX(-3.5)" font-size="74.59" fill="#0000ff">fully</text>
<text class="serif it" transform="translate(1925.93,235.09) scale(1.054,1) skewX(-3.5)" font-size="71.25" fill="#0000ff">eccentric</text>
<text class="serif" transform="translate(2202.39,234.4) scale(1.125,1)" font-size="77.28" fill="#0000ff">)</text>
<text class="serif" transform="translate(1667.71,1739.93) scale(1.111,1)" font-size="97.29" fill="#ff0000">ε</text>
<text class="serif" transform="translate(1729.3,1742.94) scale(1.2,1)" font-size="68" fill="#ff0000">=</text>
<text class="serif" transform="translate(1792.66,1740.41) scale(0.98,1)" font-size="78.53" fill="#ff0000">0</text>
<text class="serif" transform="translate(1867.4,1740.21) scale(1.058,1)" font-size="77.32" fill="#ff0000">(</text>
<text class="serif it" transform="translate(1891.33,1740.48) scale(1.042,1) skewX(-3.5)" font-size="72.15" fill="#ff0000">concentric</text>
<text class="serif" transform="translate(2209.94,1740.2) scale(1.064,1)" font-size="77.28" fill="#ff0000">)</text>
<text class="serif it" transform="translate(90.45,880) scale(1.015,1) skewX(-3.5)" font-size="103.36">h</text>
<text class="serif it" transform="translate(141.98,903.92) scale(1.019,1) skewX(-3.5)" font-size="58.19">e</text>
<text class="serif it" transform="translate(19.24,1004.32) scale(0.971,1) skewX(-3.5)" font-size="99.08">(</text>
<text class="serif it" transform="translate(49.31,1004.6) scale(1.031,1) skewX(-3.5)" font-size="97.41">mm</text>
<text class="serif it" transform="translate(189.31,1004.3) scale(0.992,1) skewX(-3.5)" font-size="99.04">)</text>
<text class="serif it" transform="translate(1240.41,2063.7) scale(1.047,1) skewX(-3.5)" font-size="80.86">r</text>
<text class="serif it" transform="translate(1276.43,2085.1) scale(1.007,1) skewX(-3.5)" font-size="51.21">1</text>
<text class="serif it" transform="translate(1320.91,2063.81) scale(0.865,1) skewX(-3.5)" font-size="89.43">/</text>
<text class="serif it" transform="translate(1362.93,2063.7) scale(1.041,1) skewX(-3.5)" font-size="80.86">r</text>
<text class="serif it" transform="translate(1399.05,2085.1) scale(0.874,1) skewX(-3.5)" font-size="51.03">2</text>
</svg>
</body></html>
